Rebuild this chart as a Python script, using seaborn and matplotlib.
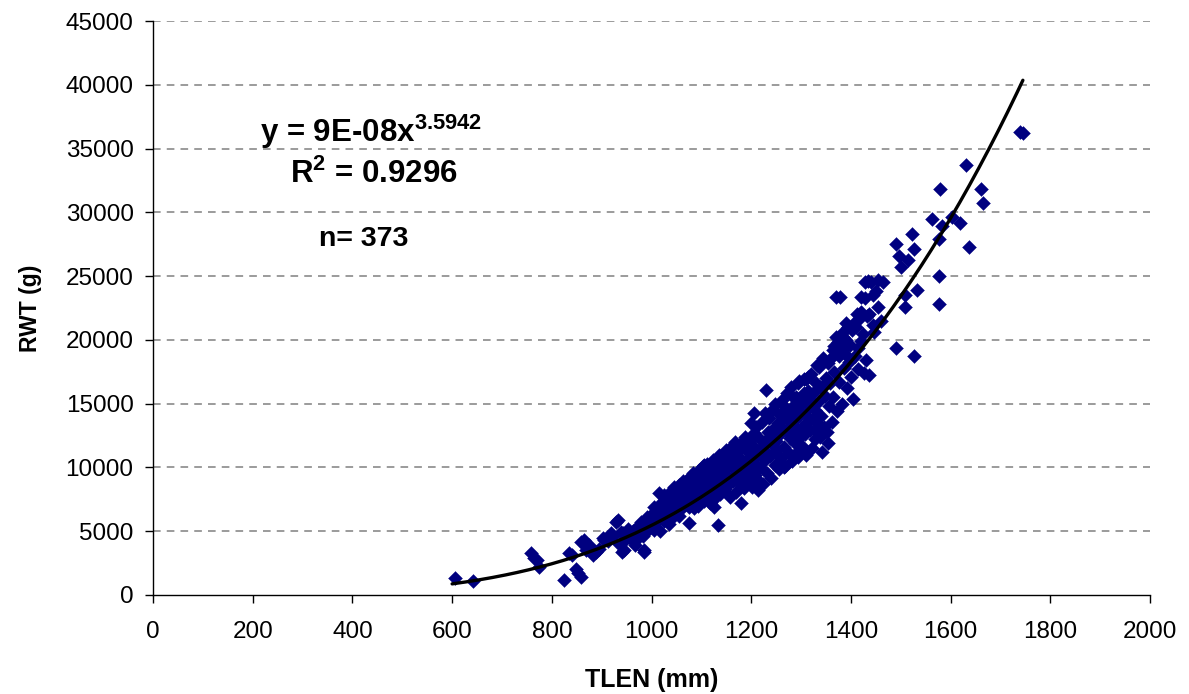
import numpy as np
import pandas as pd
import matplotlib
matplotlib.use("Agg")
import matplotlib.pyplot as plt
import seaborn as sns

# ---- data (TLEN mm, RWT g) ----
tlen = [
    605, 641, 758, 765, 771, 774,
    824, 834, 840, 848, 852, 858, 858, 864, 868, 874, 875, 882, 888, 895,
    902, 905, 912, 918, 922, 929, 932, 935, 938, 941, 943, 945, 948,
    952, 957, 960, 963, 966, 969, 972, 975, 979, 979, 982, 985, 985, 988, 990, 993, 995, 998,
    1002, 1005, 1005, 1005, 1008, 1010, 1012, 1015, 1016, 1018, 1020, 1022, 1025, 1026, 1028,
    1030, 1032, 1035, 1036, 1038, 1040, 1042, 1044, 1045, 1047, 1049,
    1051, 1053, 1055, 1056, 1058, 1060, 1062, 1064, 1065, 1068, 1070, 1072, 1074, 1075, 1075,
    1077, 1079, 1080, 1082, 1084, 1085, 1087, 1088, 1090, 1092, 1094, 1095, 1097, 1099,
    1100, 1102, 1104, 1105, 1106, 1107, 1108, 1110, 1112, 1113, 1115, 1117, 1118, 1120, 1122,
    1123, 1125, 1126, 1127, 1128, 1130, 1132, 1133, 1134, 1135, 1137, 1138, 1140, 1142, 1144,
    1146, 1148,
    1150, 1150, 1152, 1153, 1155, 1157, 1158, 1160, 1162, 1163, 1165, 1167, 1168, 1170, 1172,
    1173, 1175, 1177, 1178, 1180, 1180, 1182, 1183, 1185, 1187, 1188, 1190, 1192, 1193, 1195,
    1197, 1199,
    1200, 1200, 1202, 1204, 1205, 1206, 1207, 1208, 1210, 1212, 1213, 1214, 1215, 1218, 1220,
    1222, 1223, 1225, 1227, 1228, 1230, 1230, 1232, 1233, 1235, 1237, 1238, 1240, 1242, 1243,
    1245, 1247, 1248,
    1250, 1252, 1253, 1255, 1257, 1258, 1260, 1262, 1263, 1265, 1266, 1267, 1268, 1270, 1272,
    1273, 1275, 1277, 1278, 1280, 1282, 1283, 1285, 1286, 1287, 1288, 1290, 1292, 1293, 1294,
    1294, 1295, 1297, 1299,
    1300, 1302, 1304, 1305, 1306, 1307, 1308, 1310, 1310, 1312, 1313, 1314, 1315, 1317, 1318,
    1320, 1322, 1323, 1325, 1327, 1327, 1328, 1330, 1332, 1333, 1335, 1335, 1337, 1338, 1340,
    1342, 1343, 1345, 1347, 1347, 1349,
    1350, 1352, 1355, 1355, 1357, 1358, 1360, 1362, 1364, 1365, 1367, 1367, 1370, 1371, 1372,
    1375, 1377, 1377, 1378, 1380, 1382, 1384, 1385, 1386, 1387, 1388, 1390, 1391, 1392, 1395,
    1397, 1399,
    1400, 1402, 1404, 1407, 1409, 1411, 1412, 1415, 1415, 1417, 1420, 1421, 1421, 1425, 1427,
    1428, 1428, 1430, 1433, 1435, 1437, 1437, 1441, 1445, 1445, 1447, 1451, 1455, 1455, 1460,
    1465,
    1491, 1491, 1497, 1501, 1508, 1508, 1515, 1522, 1526, 1526, 1532,
    1562, 1576, 1576, 1576, 1578, 1582, 1602, 1618, 1630, 1636, 1660, 1665, 1740, 1745,
]
rwt = [
    1330, 1100, 3300, 2900, 2750, 2200,
    1180, 3300, 3100, 2040, 1700, 1410, 4160, 4300, 3530, 3770, 3900, 3140, 3400, 3600,
    4470, 4320, 4200, 4870, 4600, 5730, 5890, 4000, 4950, 3380, 4870, 3530, 4400,
    5200, 4700, 4300, 5000, 3900, 4320, 5400, 4800, 5500, 5730, 4600, 3380, 3530, 5900, 6100, 5100, 5600, 6300,
    5400, 5100, 6440, 6900, 6000, 5700, 6700, 8000, 6300, 5000, 7200, 6200, 7850, 5800, 6900,
    7500, 6400, 7000, 5600, 7800, 6700, 8200, 6100, 8480, 7300, 6600,
    7900, 7000, 8600, 6200, 7600, 8100, 6800, 8900, 7400, 8300, 7100, 9000, 7700, 5650, 6900,
    8500, 9300, 7300, 8000, 9600, 6800, 8800, 7500, 9100, 8200, 7000, 9800, 8600, 7800,
    9400, 8100, 10100, 7400, 10200, 8900, 9700, 7900, 10300, 8500, 9200, 7200, 10000, 8700, 9500,
    10600, 8000, 6900, 9000, 7600, 10400, 9800, 8400, 5500, 11000, 9300, 7900, 10200, 8800, 9600,
    10800, 8300,
    9900, 11380, 11200, 8600, 10500, 9100, 7700, 11600, 10000, 8900, 10900, 9400, 12000, 8100, 10300,
    11300, 9700, 8700, 10700, 11900, 7220, 9200, 10100, 8400, 11500, 12400, 9600, 10500, 8900, 11100,
    12100, 9900,
    10800, 13500, 8500, 11700, 12700, 14290, 9400, 10300, 13200, 11000, 9000, 8240, 12300, 10000, 11500,
    13600, 8700, 12000, 10600, 14300, 11200, 16100, 9600, 12800, 13900, 10900, 12400, 9200, 11800, 14600,
    13100, 10200, 15000,
    12100, 11400, 13500, 9900, 14100, 12600, 10700, 15300, 13000, 11600, 10050, 14700, 10100, 12900, 15800,
    13700, 11100, 14200, 12300, 16300, 10500, 13300, 14900, 15460, 11900, 12700, 15500, 13900, 11300, 10830,
    16600, 16800, 14400, 12500,
    13100, 11700, 15100, 16900, 15860, 12600, 14200, 11000, 16900, 13600, 16000, 17100, 15400, 12900, 14800,
    17300, 11500, 13800, 15900, 14500, 12950, 12200, 16600, 18000, 13400, 15200, 17900, 12400, 16300, 14000,
    11200, 16300, 18600, 13200, 18450, 15600,
    17000, 12800, 18200, 11930, 14800, 16600, 18600, 13600, 19200, 15500, 17500, 19500, 23400, 20250, 14400,
    19800, 16700, 18700, 23400, 19300, 15000, 20200, 20600, 17800, 19300, 18900, 20000, 21350, 16200, 21000,
    18300, 19600,
    17100, 20800, 15400, 21300, 18700, 21000, 22000, 19400, 17700, 21600, 19900, 23400, 22200, 20500, 17400,
    24500, 23300, 18400, 21900, 24600, 22000, 17270, 24500, 23550, 21200, 20600, 23800, 24700, 22600, 21500,
    24500,
    27500, 19400, 26600, 25700, 23500, 22600, 26300, 28300, 27100, 18700, 23900,
    29500, 27900, 25000, 22800, 31800, 28900, 29600, 29200, 33700, 27300, 31800, 30700, 36300, 36200,
]

# published power-law fit shown on the chart
coef_a = 9e-08
coef_b = 3.5942
fit_range = [600, 1745]

x_ticks = [0, 200, 400, 600, 800, 1000, 1200, 1400, 1600, 1800, 2000]
y_ticks = [0, 5000, 10000, 15000, 20000, 25000, 30000, 35000, 40000, 45000]

df = pd.DataFrame({"TLEN": tlen, "RWT": rwt})

sns.set_style("white")
plt.rcParams["font.family"] = ["Liberation Sans", "DejaVu Sans"]
plt.rcParams["text.color"] = "black"
plt.rcParams["axes.labelcolor"] = "black"
plt.rcParams["mathtext.fontset"] = "custom"
plt.rcParams["mathtext.rm"] = "Liberation Sans:bold"
plt.rcParams["mathtext.bf"] = "Liberation Sans:bold"
plt.rcParams["mathtext.default"] = "bf"

fig = plt.figure(figsize=(11.89, 6.94), dpi=100)
ax = fig.add_axes([0.1287, 0.1427, 0.8385, 0.827])

ax.set_axisbelow(True)
for yv in y_ticks[1:]:
    ax.axhline(yv, color="#808080", lw=1.1, ls=(0, (5, 4)), zorder=0)

sns.scatterplot(data=df, x="TLEN", y="RWT", marker="D", color="#000080",
                s=50, edgecolor="#000080", linewidth=0.3, ax=ax, zorder=3)

xf = np.linspace(fit_range[0], fit_range[1], 300)
ax.plot(xf, coef_a * xf ** coef_b, color="black", lw=2.4, zorder=4)

ax.set_xlim(0, 2000)
ax.set_ylim(0, 45000)
ax.set_xticks(x_ticks)
ax.set_yticks(y_ticks)
ax.tick_params(axis="both", direction="out", length=6, width=1, colors="black",
               labelsize=17.5, left=True, bottom=True)
ax.tick_params(axis="x", pad=13)
ax.tick_params(axis="y", pad=8)
for s in ["top", "right"]:
    ax.spines[s].set_visible(False)
for s in ["left", "bottom"]:
    ax.spines[s].set_color("black")
    ax.spines[s].set_linewidth(1)

ax.set_xlabel("TLEN (mm)", fontsize=18, fontweight="bold", labelpad=18)
ax.set_ylabel("RWT (g)", fontsize=16.5, fontweight="bold", labelpad=17)

ax.text(215, 36300, "y = 9E-08x$^{3.5942}$", fontsize=22.5, fontweight="bold",
        va="center", ha="left")
ax.text(275, 33000, "R$^{2}$ = 0.9296", fontsize=22.5, fontweight="bold",
        va="center", ha="left")
ax.text(332, 27900, "n= 373", fontsize=20.5, fontweight="bold",
        va="center", ha="left")

fig.savefig("out.png", dpi=100)
